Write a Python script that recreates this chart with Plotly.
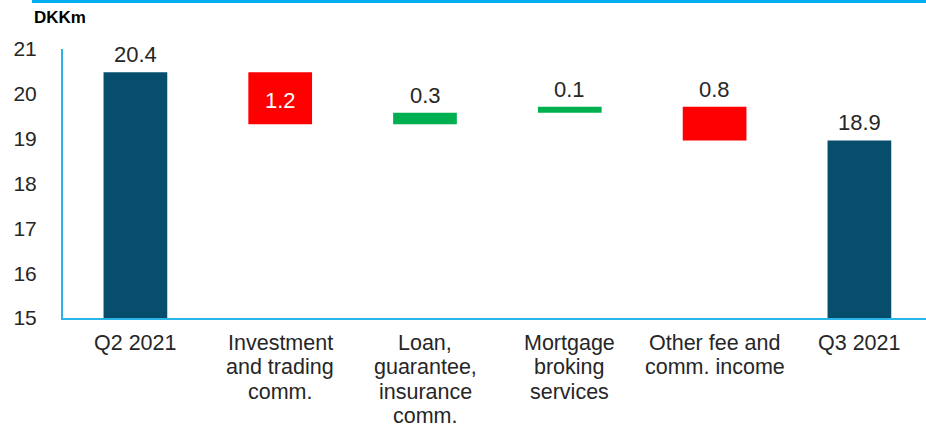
import plotly.graph_objects as go

categories = ["Q2 2021", "Investment<br>and trading<br>comm.", "Loan,<br>guarantee,<br>insurance<br>comm.",
              "Mortgage<br>broking<br>services", "Other fee and<br>comm. income", "Q3 2021"]
measures = ["absolute", "relative", "relative", "relative", "relative", "total"]
values = [20.48, -1.16, 0.26, 0.13, -0.75, 0]
labels = ["20.4", "1.2", "0.3", "0.1", "0.8", "18.9"]
y_ticks = [15, 16, 17, 18, 19, 20, 21]

W, H = 926, 429
L, R, T, B = 63, 0, 49, 111
FONT = "Liberation Sans, Arial, sans-serif"
TXT = "#262626"

# bar extents (for label placement)
tops, bottoms = [], []
run = 0.0
for m, v in zip(measures, values):
    if m == "absolute":
        lo, hi = y_ticks[0], v
        run = v
    elif m == "total":
        lo, hi = y_ticks[0], run
    else:
        lo, hi = sorted([run, run + v])
        run += v
    tops.append(hi)
    bottoms.append(lo)

fig = go.Figure()
fig.add_trace(go.Waterfall(
    x=categories, y=values, measure=measures,
    increasing=dict(marker=dict(color="#00B050", line=dict(width=0))),
    decreasing=dict(marker=dict(color="#FF0000", line=dict(width=0))),
    totals=dict(marker=dict(color="#064E6C", line=dict(width=0))),
    connector=dict(visible=False),
    width=0.44,
    hoverinfo="skip",
    showlegend=False,
))

# value labels
for i, lab in enumerate(labels):
    if i == 1:
        fig.add_annotation(x=categories[i], y=(tops[i] + bottoms[i]) / 2, text=lab,
                           showarrow=False, yanchor="middle", yshift=-2,
                           font=dict(family=FONT, size=22, color="#FFFFFF"))
    else:
        fig.add_annotation(x=categories[i], y=tops[i], text=lab,
                           showarrow=False, yanchor="bottom", yshift=3,
                           font=dict(family=FONT, size=22, color=TXT))

# category labels, one annotation per line for tighter line spacing
for c in categories:
    for k, line in enumerate(c.split("<br>")):
        fig.add_annotation(x=c, y=0, yref="paper", text=line, showarrow=False,
                           yanchor="middle", yshift=-(25 + 24.3 * k), borderpad=0,
                           font=dict(family=FONT, size=21.5, color=TXT))

pw = W - L - R
ph = H - T - B
fig.add_shape(type="line", xref="paper", yref="paper",
              x0=(32 - L) / pw, x1=(W - L) / pw,
              y0=1 + (T - 1.5) / ph, y1=1 + (T - 1.5) / ph,
              line=dict(color="#00AEEF", width=3))
fig.add_annotation(text="<b>DKKm</b>", xref="paper", yref="paper",
                   x=(32 - L) / pw, y=1 + (T - 18) / ph, xanchor="left", yanchor="middle",
                   showarrow=False, font=dict(family=FONT, size=17, color="#000000"))

fig.update_layout(
    width=W, height=H,
    margin=dict(l=L, r=R, t=T, b=B),
    paper_bgcolor="white", plot_bgcolor="white",
    font=dict(family=FONT, size=21, color=TXT),
    xaxis=dict(range=[-0.5, 5.46], showline=True, linecolor="#29B5E8", linewidth=2,
               showgrid=False, zeroline=False, ticks="", showticklabels=False),
    yaxis=dict(range=[y_ticks[0], y_ticks[-1]], tickvals=y_ticks, showline=True,
               linecolor="#29B5E8", linewidth=2,
               showgrid=False, zeroline=False, ticks="", ticklabelstandoff=20,
               tickfont=dict(family=FONT, size=21, color=TXT)),
)

fig.write_html("out.html", config={"displayModeBar": False},
               post_script="document.body.style.margin='0';")
